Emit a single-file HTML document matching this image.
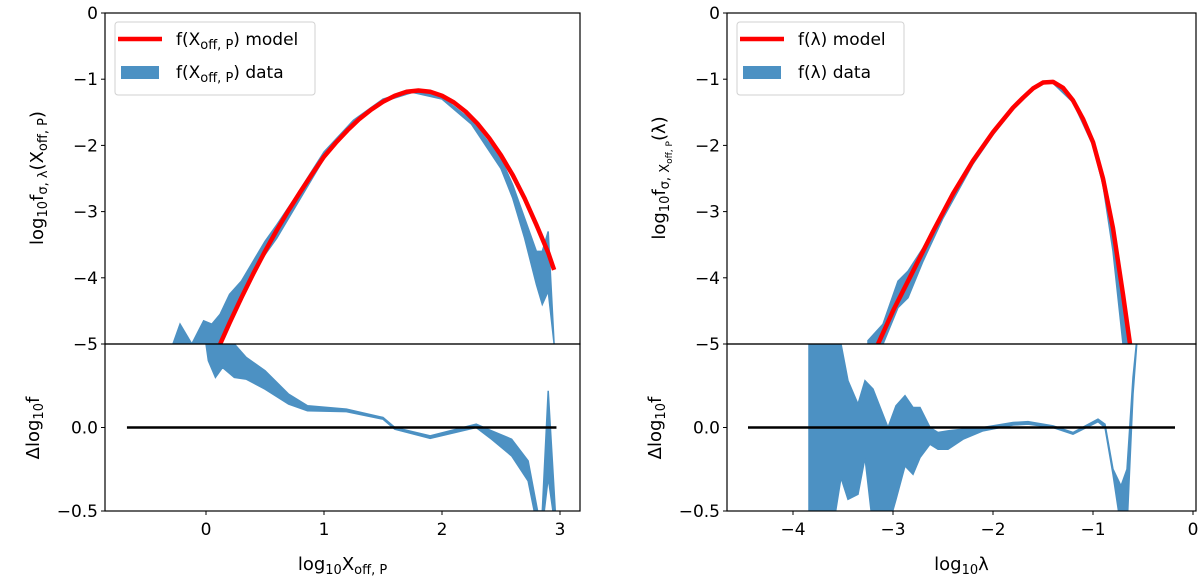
<!DOCTYPE html>
<html><head><meta charset="utf-8"><style>
body{margin:0;background:#fff}
svg text{font-family:"DejaVu Sans","Liberation Sans",sans-serif;fill:#000}
</style></head><body>
<svg id="fig" width="1200" height="579" viewBox="0 0 1200 579"></svg>
<script>
const leftModelX=[0.12,0.2,0.3,0.4,0.5,0.6,0.7,0.8,0.9,1.0,1.1,1.2,1.3,1.4,1.5,1.6,1.7,1.8,1.9,2.0,2.1,2.2,2.3,2.4,2.5,2.6,2.7,2.8,2.9,2.95];
const leftModelY=[-5,-4.68,-4.3,-3.94,-3.6,-3.28,-2.98,-2.7,-2.43,-2.17,-1.96,-1.77,-1.6,-1.46,-1.34,-1.25,-1.19,-1.17,-1.19,-1.25,-1.35,-1.49,-1.67,-1.89,-2.15,-2.45,-2.8,-3.2,-3.62,-3.88];
const leftDataX=[-0.28,-0.22,-0.12,-0.02,0.05,0.12,0.2,0.3,0.4,0.5,0.6,0.75,1.0,1.25,1.5,1.75,2.0,2.25,2.5,2.6,2.7,2.8,2.85,2.9,2.95];
const leftDataHi=[-5,-4.7,-5,-4.65,-4.7,-4.55,-4.25,-4.05,-3.75,-3.45,-3.2,-2.8,-2.1,-1.62,-1.3,-1.17,-1.27,-1.62,-2.2,-2.6,-3.1,-3.6,-3.6,-3.3,-5];
const leftDataLo=[-5,-5,-5,-5,-5,-5,-4.6,-4.35,-3.95,-3.65,-3.4,-2.95,-2.2,-1.66,-1.34,-1.2,-1.3,-1.68,-2.35,-2.8,-3.4,-4.1,-4.4,-4.2,-5];
const leftResX=[0.0,0.02,0.08,0.14,0.24,0.34,0.5,0.7,0.86,1.19,1.5,1.6,1.9,2.29,2.42,2.59,2.73,2.81,2.85,2.9,2.96];
const leftResHi=[0.5,0.5,0.5,0.5,0.5,0.42,0.34,0.2,0.13,0.11,0.06,0.0,-0.05,0.02,-0.02,-0.07,-0.2,-0.5,-0.5,0.22,-0.5];
const leftResLo=[0.5,0.4,0.3,0.36,0.3,0.29,0.23,0.14,0.1,0.095,0.05,-0.01,-0.065,0.0,-0.07,-0.17,-0.32,-0.6,-0.6,-0.3,-0.6];
const leftZeroX=[-0.67,2.97];
const rightModelX=[-3.15,-3.0,-2.8,-2.6,-2.4,-2.2,-2.0,-1.8,-1.7,-1.6,-1.5,-1.4,-1.3,-1.2,-1.1,-1.0,-0.9,-0.8,-0.7,-0.63];
const rightModelY=[-5,-4.5,-3.9,-3.3,-2.73,-2.23,-1.8,-1.43,-1.28,-1.14,-1.05,-1.04,-1.13,-1.32,-1.6,-1.95,-2.5,-3.25,-4.25,-5];
const rightDataX=[-3.25,-3.1,-2.95,-2.85,-2.7,-2.5,-2.2,-2.0,-1.8,-1.6,-1.5,-1.4,-1.2,-1.0,-0.9,-0.8,-0.7,-0.65];
const rightDataHi=[-4.95,-4.7,-4.05,-3.9,-3.55,-3.0,-2.23,-1.8,-1.43,-1.14,-1.05,-1.04,-1.32,-1.95,-2.5,-3.3,-4.5,-5];
const rightDataLo=[-5,-5,-4.45,-4.3,-3.75,-3.1,-2.28,-1.84,-1.46,-1.16,-1.07,-1.06,-1.35,-2.0,-2.6,-3.6,-5,-5];
const rightResX=[-3.84,-3.78,-3.7,-3.6,-3.52,-3.45,-3.35,-3.28,-3.2,-3.05,-2.97,-2.88,-2.8,-2.73,-2.63,-2.55,-2.45,-2.3,-2.1,-1.8,-1.65,-1.4,-1.2,-0.95,-0.88,-0.8,-0.72,-0.66,-0.6,-0.55];
const rightResHi=[0.6,0.6,0.6,0.6,0.5,0.28,0.14,0.28,0.23,0.0,0.13,0.19,0.12,0.12,0.0,-0.03,-0.02,-0.01,0.0,0.03,0.035,0.01,-0.03,0.05,0.02,-0.25,-0.35,-0.25,0.3,0.6];
const rightResLo=[-0.6,-0.6,-0.6,-0.6,-0.3,-0.43,-0.4,-0.18,-0.6,-0.6,-0.43,-0.23,-0.28,-0.18,-0.1,-0.13,-0.13,-0.07,-0.02,0.015,0.02,0.0,-0.04,0.035,0.0,-0.28,-0.6,-0.6,0.2,0.6];
const rightZeroX=[-4.45,-0.18];
const leftXTicks=[0,1,2,3];
const rightXTicks=[-4,-3,-2,-1,0];
const upperYTicks=[0,-1,-2,-3,-4,-5];
const lowerYTicks=[0.0,-0.5];

const NS='http://www.w3.org/2000/svg';
const svg=document.getElementById('fig');
function mk(tag,attrs,parent){const e=document.createElementNS(NS,tag);for(const k in attrs)e.setAttribute(k,attrs[k]);(parent||svg).appendChild(e);return e;}
function lin(d0,d1,r0,r1){return v=>r0+(v-d0)*(r1-r0)/(d1-d0);}
function fmt(v,dec){return v.toFixed(dec).replace('-','\u2212');}

function panel(o){
  const g=mk('g',{});
  
  
  const X=lin(o.xd[0],o.xd[1],o.xp[0],o.xp[1]);
  const YU=lin(0,-5,13,344);
  const YL=lin(0.5,-0.5,344,511);
  const cid=o.name+'-clip';
  const defs=mk('defs',{},g);
  const c1=mk('clipPath',{id:cid+'u'},defs);mk('rect',{x:o.L,y:13,width:o.R-o.L,height:331},c1);
  const c2=mk('clipPath',{id:cid+'l'},defs);mk('rect',{x:o.L,y:344,width:o.R-o.L,height:167},c2);
  let d='';o.dx.forEach((x,i)=>{d+=(i?'L':'M')+X(x)+','+YU(o.dhi[i]);});
  for(let i=o.dx.length-1;i>=0;i--)d+='L'+X(o.dx[i])+','+YU(o.dlo[i]);
  const band=mk('path',{d:d+'Z',fill:'#4c91c3',stroke:'#4c91c3','stroke-width':1.5,'clip-path':`url(#${cid}u)`},g);
  
  
  const pts=o.mx.map((x,i)=>X(x)+','+YU(o.my[i])).join(' ');
  const ml=mk('polyline',{points:pts,fill:'none',stroke:'#ff0000','stroke-width':4.5,'stroke-linejoin':'round','clip-path':`url(#${cid}u)`},g);
  
  
  d='';o.rx.forEach((x,i)=>{d+=(i?'L':'M')+X(x)+','+YL(o.rhi[i]);});
  for(let i=o.rx.length-1;i>=0;i--)d+='L'+X(o.rx[i])+','+YL(o.rlo[i]);
  const rb=mk('path',{d:d+'Z',fill:'#4c91c3',stroke:'#4c91c3','stroke-width':1.5,'clip-path':`url(#${cid}l)`},g);
  
  
  const zl=mk('line',{x1:X(o.zx[0]),x2:X(o.zx[1]),y1:YL(0),y2:YL(0),stroke:'#000','stroke-width':2.5},g);
  
  
  mk('rect',{x:o.L,y:13,width:o.R-o.L,height:331,fill:'none',stroke:'#000','stroke-width':1.2},g);
  mk('rect',{x:o.L,y:344,width:o.R-o.L,height:167,fill:'none',stroke:'#000','stroke-width':1.2},g);
  upperYTicks.forEach(v=>{const y=YU(v);mk('line',{x1:o.L-4,x2:o.L,y1:y,y2:y,stroke:'#000'},g);
    const t=mk('text',{x:o.L-7,y:y+6,'text-anchor':'end','font-size':17},g);t.textContent=fmt(v,0);
    });
  lowerYTicks.forEach(v=>{const y=YL(v);mk('line',{x1:o.L-4,x2:o.L,y1:y,y2:y,stroke:'#000'},g);
    const t=mk('text',{x:o.L-7,y:y+6,'text-anchor':'end','font-size':17},g);t.textContent=fmt(v,1);
    });
  o.xt.forEach(v=>{const x=X(v);mk('line',{x1:x,x2:x,y1:511,y2:515,stroke:'#000'},g);
    const t=mk('text',{x:x,y:535,'text-anchor':'middle','font-size':17},g);t.textContent=fmt(v,0);
    });
  const xl=mk('text',{x:(o.L+o.R)/2,y:570,'text-anchor':'middle','font-size':18},g);xl.innerHTML=o.xlabel;
  
  const yl=mk('text',{x:0,y:0,'text-anchor':'middle','font-size':18,transform:`translate(${o.L-62},178) rotate(-90)`},g);yl.innerHTML=o.ylabel;
  
  const yl2=mk('text',{x:0,y:0,'text-anchor':'middle','font-size':18,transform:`translate(${o.L-66},428) rotate(-90)`},g);
  yl2.innerHTML='Δlog<tspan font-size="13" dy="4">10</tspan><tspan dy="-4">f</tspan>';
  
  const lg=mk('g',{},g);
  
  mk('rect',{x:o.L+10,y:22,width:o.lw,height:73,rx:3,fill:'#fff',stroke:'#ccc','stroke-opacity':0.9},lg);
  mk('line',{x1:o.L+13,x2:o.L+57,y1:39,y2:39,stroke:'#ff0000','stroke-width':4.5},lg);
  mk('rect',{x:o.L+16,y:66,width:38,height:13,fill:'#4c91c3'},lg);
  const t1=mk('text',{x:o.L+71,y:45,'font-size':17},lg);t1.innerHTML=o.leg1;
  
  const t2=mk('text',{x:o.L+71,y:78,'font-size':17},lg);t2.innerHTML=o.leg2;
  
}
const sub='<tspan font-size="13" dy="4">off, P</tspan><tspan dy="-4">';
panel({name:'left-panel',L:105,R:580,xd:[0,1],xp:[206,324],
  mx:leftModelX,my:leftModelY,dx:leftDataX,dhi:leftDataHi,dlo:leftDataLo,
  rx:leftResX,rhi:leftResHi,rlo:leftResLo,zx:leftZeroX,xt:leftXTicks,lw:200,
  xlabel:'log<tspan font-size="13" dy="4">10</tspan><tspan dy="-4">X</tspan>'+sub+'</tspan>',
  ylabel:'log<tspan font-size="13" dy="4">10</tspan><tspan dy="-4">f</tspan><tspan font-size="13" dy="4">σ, λ</tspan><tspan dy="-4">(X</tspan>'+sub+')</tspan>',
  leg1:'f(X'+sub+') model</tspan>',leg2:'f(X'+sub+') data</tspan>'});
panel({name:'right-panel',L:727,R:1196,xd:[-4,0],xp:[793,1193],
  mx:rightModelX,my:rightModelY,dx:rightDataX,dhi:rightDataHi,dlo:rightDataLo,
  rx:rightResX,rhi:rightResHi,rlo:rightResLo,zx:rightZeroX,xt:rightXTicks,lw:167,
  xlabel:'log<tspan font-size="13" dy="4">10</tspan><tspan dy="-4">λ</tspan>',
  ylabel:'log<tspan font-size="13" dy="4">10</tspan><tspan dy="-4">f</tspan><tspan font-size="13" dy="4">σ, X</tspan><tspan font-size="9" dy="3">off, P</tspan><tspan dy="-7">(λ)</tspan>',
  leg1:'f(λ) model',leg2:'f(λ) data'});
</script>
</body></html>
